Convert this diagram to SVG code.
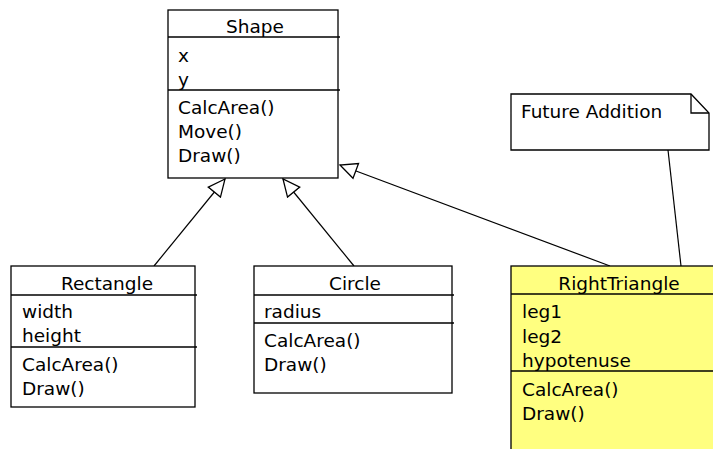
<svg xmlns="http://www.w3.org/2000/svg" width="713" height="449" viewBox="0 0 713 449">
<style>
  .box { fill: #ffffff; stroke: #000; stroke-width: 1.3; }
  .yel { fill: #ffff80; stroke: #000; stroke-width: 1.3; }
  .div { stroke: #000; stroke-width: 1.3; fill: none; }
  .t { font-family: "DejaVu Sans", sans-serif; font-size: 18.5px; fill: #000; }
  .c { text-anchor: middle; }
  .conn { stroke: #000; stroke-width: 1.2; fill: none; }
</style>
<defs>
  <marker id="tri" markerUnits="userSpaceOnUse" markerWidth="20" markerHeight="20" viewBox="-17 -9 19 18" refX="0" refY="0" orient="auto">
    <path d="M0,0 L-16,-7.5 L-16,7.5 Z" fill="#fff" stroke="#000" stroke-width="1.2"/>
  </marker>
</defs>
<rect width="713" height="449" fill="#fff"/>
<g id="connectors">
  <line class="conn" x1="154" y1="266" x2="225" y2="179" marker-end="url(#tri)"/>
  <line class="conn" x1="354" y1="266" x2="283" y2="179" marker-end="url(#tri)"/>
  <line class="conn" x1="610" y1="266" x2="340" y2="165" marker-end="url(#tri)"/>
  <line class="conn" x1="668" y1="150" x2="681" y2="266"/>
</g>
<g id="shape">
  <rect class="box" x="168" y="10" width="170" height="168"/>
  <line class="div" x1="168" y1="37" x2="340" y2="37"/>
  <line class="div" x1="168" y1="90" x2="340" y2="90"/>
  <text class="t c" x="255" y="33">Shape</text>
  <text class="t" x="178" y="62">x</text>
  <text class="t" x="178" y="86">y</text>
  <text class="t" x="178" y="114">CalcArea()</text>
  <text class="t" x="178" y="138">Move()</text>
  <text class="t" x="178" y="162">Draw()</text>
</g>
<g id="rectangle">
  <rect class="box" x="11" y="266" width="184" height="141"/>
  <line class="div" x1="11" y1="295" x2="197" y2="295"/>
  <line class="div" x1="11" y1="347" x2="197" y2="347"/>
  <text class="t c" x="107" y="290">Rectangle</text>
  <text class="t" x="22" y="318">width</text>
  <text class="t" x="22" y="342">height</text>
  <text class="t" x="22" y="371">CalcArea()</text>
  <text class="t" x="22" y="395">Draw()</text>
</g>
<g id="circle">
  <rect class="box" x="254" y="266" width="198" height="127"/>
  <line class="div" x1="254" y1="295" x2="454" y2="295"/>
  <line class="div" x1="254" y1="323" x2="454" y2="323"/>
  <text class="t c" x="355" y="290">Circle</text>
  <text class="t" x="264" y="318">radius</text>
  <text class="t" x="264" y="347">CalcArea()</text>
  <text class="t" x="264" y="371">Draw()</text>
</g>
<g id="righttriangle">
  <rect class="yel" x="511" y="266" width="220" height="200"/>
  <line class="div" x1="511" y1="294" x2="713" y2="294"/>
  <line class="div" x1="511" y1="371" x2="713" y2="371"/>
  <text class="t c" x="619" y="290">RightTriangle</text>
  <text class="t" x="522" y="318">leg1</text>
  <text class="t" x="522" y="343">leg2</text>
  <text class="t" x="522" y="367">hypotenuse</text>
  <text class="t" x="522" y="396">CalcArea()</text>
  <text class="t" x="522" y="420">Draw()</text>
</g>
<g id="note">
  <path class="box" d="M511,94 L691,94 L709,113 L709,150 L511,150 Z"/>
  <path class="div" d="M691,94 L691,113 L709,113"/>
  <text class="t" x="521" y="118">Future Addition</text>
</g>
</svg>
